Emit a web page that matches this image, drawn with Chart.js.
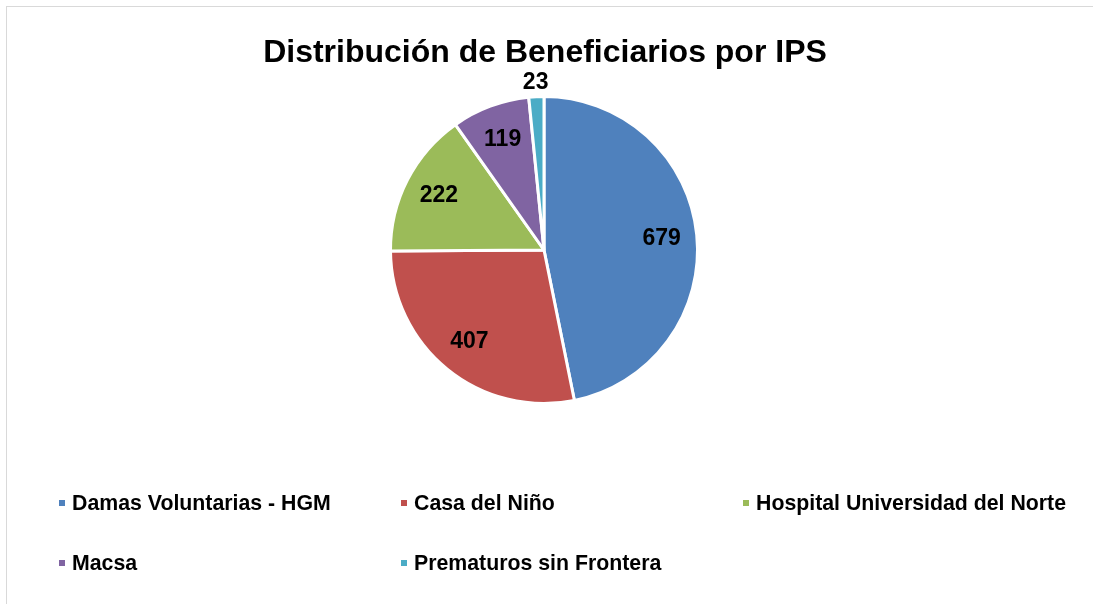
<!DOCTYPE html>
<html>
<head>
<meta charset="utf-8">
<script src="https://cdn.jsdelivr.net/npm/chart.js@4.4.0/dist/chart.umd.min.js"></script>
<style>
  html, body { margin: 0; padding: 0; background: #fff; }
  #wrap { width: 1093px; height: 604px; position: relative; }
</style>
</head>
<body>
<div id="wrap"><canvas id="pie" width="1093" height="604"></canvas></div>
<script>
// --- data ---
const categories = ["Damas Voluntarias - HGM", "Casa del Niño", "Hospital Universidad del Norte", "Macsa", "Prematuros sin Frontera"];
const beneficiarios = [679, 407, 222, 119, 23];
const colores = ["#4F81BD", "#C0504D", "#9BBB59", "#8064A2", "#4BACC6"];
const titulo = "Distribución de Beneficiarios por IPS";

const FONT = "'Liberation Sans', Arial, sans-serif";

// frame, title, slice labels and the grid-style legend
const decorPlugin = {
    id: "decor",
    beforeDraw(chart) {
        const ctx = chart.ctx;
        ctx.save();
        ctx.strokeStyle = "#D9D9D9";
        ctx.lineWidth = 1;
        ctx.strokeRect(6.5, 6.5, 1200, 700);
        ctx.restore();
    },
    afterDraw(chart) {
        const ctx = chart.ctx;
        ctx.save();
        ctx.fillStyle = "#000";
        ctx.textAlign = "center";
        ctx.textBaseline = "middle";

        // title
        ctx.font = "bold 32px " + FONT;
        ctx.fillText(titulo, 545, 53);

        // values on the slices
        ctx.font = "bold 23px " + FONT;
        const arcs = chart.getDatasetMeta(0).data;
        arcs.forEach((arc, i) => {
            const p = arc.getProps(["x", "y", "startAngle", "endAngle", "outerRadius"], true);
            const mid = (p.startAngle + p.endAngle) / 2;
            const small = beneficiarios[i] < 50;
            const r = small ? p.outerRadius + 14 : p.outerRadius * 0.77;
            ctx.fillText(String(beneficiarios[i]), p.x + Math.cos(mid) * r, p.y + Math.sin(mid) * r);
        });

        // legend
        const colX = [59, 401, 743];
        const rowY = [503, 563];
        ctx.font = "bold 21.3px " + FONT;
        ctx.textAlign = "left";
        categories.forEach((name, i) => {
            const x = colX[i % 3];
            const y = rowY[Math.floor(i / 3)];
            ctx.fillStyle = colores[i];
            ctx.fillRect(x, y - 3, 6, 6);
            ctx.fillStyle = "#000";
            ctx.fillText(name, x + 13, y + 1);
        });
        ctx.restore();
    }
};

new Chart(document.getElementById("pie"), {
    type: "pie",
    data: {
        labels: categories,
        datasets: [{
            data: beneficiarios,
            backgroundColor: colores,
            borderColor: "#FFFFFF",
            borderWidth: 3
        }]
    },
    options: {
        responsive: false,
        animation: false,
        layout: { padding: { top: 95, bottom: 199, left: 0, right: 5 } },
        plugins: {
            legend: { display: false },
            title: { display: false },
            tooltip: { enabled: false }
        }
    },
    plugins: [decorPlugin]
});
</script>
</body>
</html>
